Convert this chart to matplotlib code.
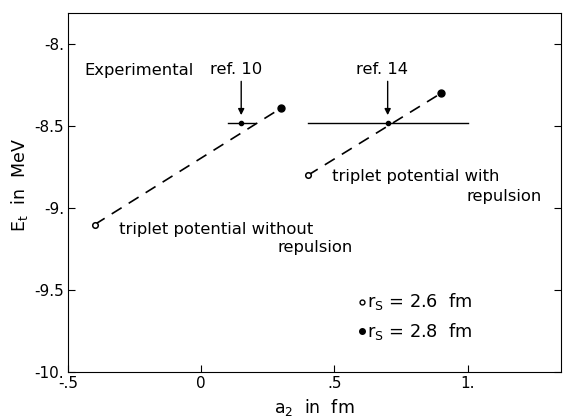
import numpy as np
import matplotlib.pyplot as plt

# r_s = 2.6 fm (open) and r_s = 2.8 fm (filled) for the two potentials
a2_open = [-0.4, 0.4]
et_open = [-9.1, -8.8]
a2_filled = [0.3, 0.9]
et_filled = [-8.39, -8.3]

# experimental values with a2 ranges
exp_a2 = [0.15, 0.7]
exp_et = [-8.48, -8.48]
exp_lo = [0.1, 0.4]
exp_hi = [0.2, 1.0]
exp_refs = ["ref. 10", "ref. 14"]

xticks = [-0.5, 0, 0.5, 1.0]
xlabels = ["-.5", "0", ".5", "1."]
yticks = [-10, -9.5, -9, -8.5, -8]
ylabels = ["-10.", "-9.5", "-9.", "-8.5", "-8."]

plt.rcParams['font.family'] = 'DejaVu Sans'
fig = plt.figure(figsize=(5.63, 4.19), dpi=100)
ax = fig.add_axes([0.121, 0.112, 0.875, 0.857])

fs = 11.8

# dashed lines joining the two r_s values of each potential
for i in range(2):
    ax.plot([a2_open[i], a2_filled[i]], [et_open[i], et_filled[i]], color='k',
            lw=1.2, dashes=(7, 5))
ax.plot(a2_open, et_open, 'o', mfc='white', mec='k', ms=4, mew=1.1)
ax.plot(a2_filled, et_filled, 'o', color='k', ms=5)

# experimental bars and arrows
for i in range(2):
    ax.plot([exp_lo[i], exp_hi[i]], [exp_et[i], exp_et[i]], color='k', lw=1.0)
    ax.plot(exp_a2[i], exp_et[i], 'o', color='k', ms=3)
    ax.annotate("", xy=(exp_a2[i], exp_et[i] + 0.03), xytext=(exp_a2[i], exp_et[i] + 0.27),
                arrowprops=dict(arrowstyle='-|>', color='k', lw=1.0, mutation_scale=9))
    ax.text(exp_a2[i] - 0.02, exp_et[i] + 0.28, exp_refs[i], ha='center', va='bottom', fontsize=fs)

ax.text(-0.44, -8.16, "Experimental", ha='left', va='center', fontsize=fs)
ax.text(-0.31, -9.13, "triplet potential without", ha='left', va='center', fontsize=fs)
ax.text(0.57, -9.24, "repulsion", ha='right', va='center', fontsize=fs)
ax.text(0.49, -8.81, "triplet potential with", ha='left', va='center', fontsize=fs)
ax.text(1.28, -8.93, "repulsion", ha='right', va='center', fontsize=fs)

# key
ax.plot(0.605, -9.57, 'o', mfc='white', mec='k', ms=3.5, mew=1.0)
ax.plot(0.605, -9.75, 'o', color='k', ms=4)
ax.text(0.622, -9.57, "r$_\\mathrm{S}$ = 2.6  fm", ha='left', va='center', fontsize=12.8)
ax.text(0.622, -9.75, "r$_\\mathrm{S}$ = 2.8  fm", ha='left', va='center', fontsize=12.8)

ax.set_xlim(-0.5, 1.35)
ax.set_ylim(-10, -7.81)
ax.set_xticks(xticks)
ax.set_xticklabels(xlabels, fontsize=11)
ax.set_yticks(yticks)
ax.set_yticklabels(ylabels, fontsize=11)
ax.tick_params(direction='in', length=5, right=True, top=False, pad=3)
ax.set_xlabel("a$_2$  in  fm", fontsize=12.5, labelpad=4)
ax.set_ylabel("E$_\\mathrm{t}$  in  MeV", fontsize=12.5, labelpad=6)
ax.yaxis.set_label_coords(-0.078, 0.52)

fig.savefig("out.png", dpi=100)
